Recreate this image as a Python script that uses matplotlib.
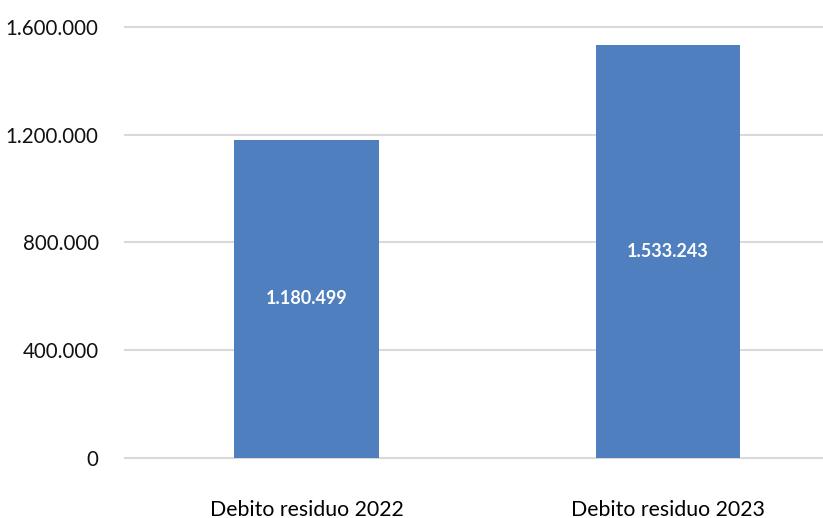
import matplotlib.pyplot as plt
from matplotlib.ticker import FuncFormatter

plt.rcParams['font.family'] = ['Lato', 'DejaVu Sans']

categorie = ['Debito residuo 2022', 'Debito residuo 2023']
debito = [1180499, 1533243]
tick_y = [0, 400000, 800000, 1200000, 1600000]


def fmt_it(v, pos=None):
    # separatore delle migliaia all'italiana
    return f'{int(v):,}'.replace(',', '.')


fig = plt.figure(figsize=(8.23, 5.18), dpi=100)
ax = fig.add_axes([0.152, 0.116, 0.848, 0.832])

x = range(len(categorie))
bars = ax.bar(x, debito, width=0.4, color='#4f7fbe', zorder=3)

for b, v in zip(bars, debito):
    ax.text(b.get_x() + b.get_width() / 2, v / 2, fmt_it(v),
            ha='center', va='center', color='white', fontsize=13,
            fontweight='bold', zorder=4)

ax.set_ylim(0, 1600000)
ax.set_xlim(-0.503, 1.43)
ax.set_yticks(tick_y)
ax.yaxis.set_major_formatter(FuncFormatter(fmt_it))
ax.set_xticks(list(x))
ax.set_xticklabels(categorie)

ax.grid(axis='y', color='#d9d9d9', lw=1.5, zorder=0)
ax.grid(axis='x', visible=False)
for gl in ax.get_ygridlines():
    gl.set_clip_on(False)
for s in ax.spines.values():
    s.set_visible(False)

ax.tick_params(axis='y', length=0, pad=19, labelsize=14.8, labelcolor='#111111')
ax.tick_params(axis='x', length=0, pad=30, labelsize=15.3, labelcolor='#000000')

plt.savefig('out.png', dpi=100)
